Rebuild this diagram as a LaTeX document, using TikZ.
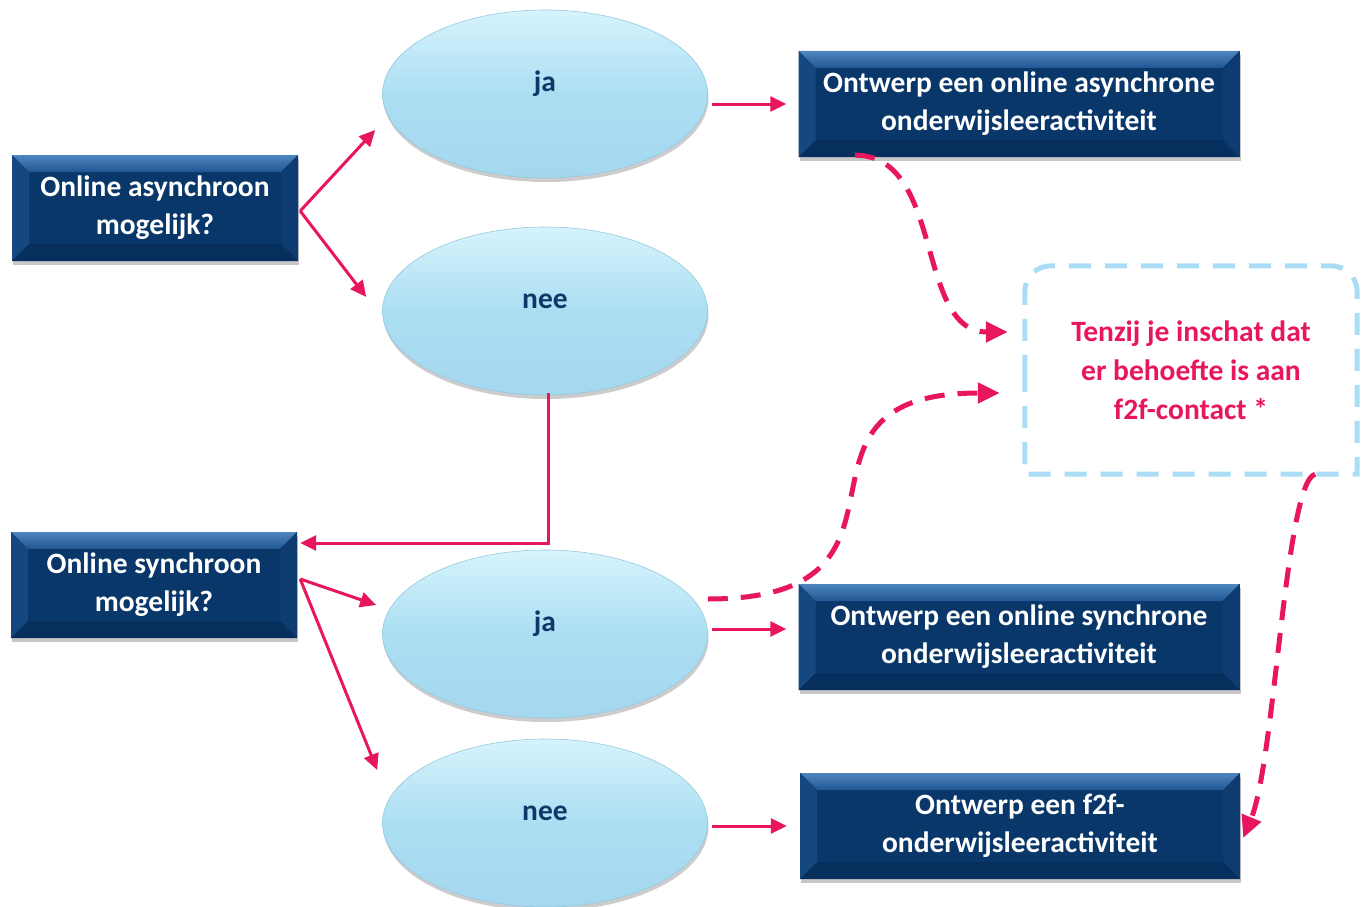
\documentclass[tikz,border=0pt]{standalone}
\usepackage{fontspec}
\setmainfont{Carlito}
\usetikzlibrary{arrows.meta,shapes.geometric,shadows}
\definecolor{navy}{RGB}{9,55,106}
\definecolor{bevtopA}{RGB}{78,134,192}
\definecolor{bevtopB}{RGB}{32,86,146}
\definecolor{bevleft}{RGB}{22,72,128}
\definecolor{bevright}{RGB}{14,60,112}
\definecolor{bevbot}{RGB}{7,47,94}
\definecolor{bubtop}{RGB}{214,244,252}
\definecolor{bubmain}{RGB}{172,222,243}
\definecolor{bubbot}{RGB}{164,216,239}
\definecolor{bubedge}{RGB}{150,200,222}
\definecolor{bubtxt}{RGB}{14,56,104}
\definecolor{pinkc}{RGB}{232,22,92}
\definecolor{frame}{RGB}{170,221,245}
\newcommand\myboxfont{\bfseries\fontsize{29.5}{38}\selectfont}
\begin{document}
\begin{tikzpicture}[x=1pt,y=-1pt,
  bevelbox/.style={rectangle, inner sep=0pt, minimum width=286pt, minimum height=106pt,
    fill=navy, text=white, font=\myboxfont, align=center,
    drop shadow={shadow xshift=1pt, shadow yshift=-4pt, fill=black, opacity=0.22},
    path picture={
      \path (path picture bounding box.north west) coordinate (bNW)
            (path picture bounding box.north east) coordinate (bNE)
            (path picture bounding box.south west) coordinate (bSW)
            (path picture bounding box.south east) coordinate (bSE);
      \shade[top color=bevtopA, bottom color=bevtopB] (bNW) -- (bNE) -- ([shift={(-17pt,-17pt)}]bNE) -- ([shift={(17pt,-17pt)}]bNW) -- cycle;
      \fill[bevleft] (bNW) -- ([shift={(17pt,-17pt)}]bNW) -- ([shift={(17pt,17pt)}]bSW) -- (bSW) -- cycle;
      \fill[bevright] (bNE) -- ([shift={(-17pt,-17pt)}]bNE) -- ([shift={(-17pt,17pt)}]bSE) -- (bSE) -- cycle;
      \fill[bevbot] (bSW) -- ([shift={(17pt,17pt)}]bSW) -- ([shift={(-17pt,17pt)}]bSE) -- (bSE) -- cycle;
    }},
  widebox/.style={bevelbox, minimum width=441pt},
  bubble/.style={ellipse, minimum width=325pt, minimum height=168pt, inner sep=0pt,
    top color=bubtop, bottom color=bubbot, middle color=bubmain,
    draw=bubedge, line width=0.6pt,
    drop shadow={shadow xshift=1pt, shadow yshift=-4pt, fill=black, opacity=0.2},
    text=bubtxt, font=\myboxfont, text height=15pt, text depth=20pt},
  arr/.style={draw=pinkc, line width=3pt, -{Triangle[length=16pt,width=15pt]}},
  darr/.style={draw=pinkc, line width=5pt, dash pattern=on 20pt off 13pt, -{Triangle[length=22pt,width=20pt]}},
  framebox/.style={draw=frame, line width=5pt, dash pattern=on 22pt off 14pt}
]
\useasboundingbox (0,0) rectangle (1365,907);

% boxes
\node[bevelbox] (q1) at (155,208) {Online asynchroon\\mogelijk?};
\node[bevelbox] (q2) at (154,585) {Online synchroon\\mogelijk?};
\node[widebox] (r1) at (1019,104) {Ontwerp een online asynchrone\\onderwijsleeractiviteit};
\node[widebox] (r2) at (1019,637) {Ontwerp een online synchrone\\onderwijsleeractiviteit};
\node[widebox, minimum width=440pt] (r3) at (1020,826) {Ontwerp een f2f-\\onderwijsleeractiviteit};

% ellipses
\node[bubble] (ja1) at (545,94) {ja};
\node[bubble] (nee1) at (545,311) {nee};
\node[bubble] (ja2) at (545,634) {ja};
\node[bubble] (nee2) at (545,823) {nee};

% note
\node[minimum width=332pt, minimum height=208pt, inner sep=0pt, align=center,
      text=pinkc, font=\bfseries\fontsize{29.5}{39}\selectfont] (note) at (1191,370)
      {Tenzij je inschat dat\\er behoefte is aan\\f2f-contact *};
\draw[framebox] (note.west) -- (note.south west) -- (note.south east) -- (note.east)
   [rounded corners=26pt] -- (note.north east) -- (note.north west) -- (note.west);

% solid arrows
\draw[arr] ([shift={(2pt,-3pt)}]q1.east) -- ([shift={(-7pt,-36pt)}]ja1.west);
\draw[arr] ([shift={(2pt,-3pt)}]q1.east) -- ([shift={(-16pt,14pt)}]nee1.west);
\draw[arr] ([shift={(4pt,-10pt)}]ja1.east) -- ([shift={(-12pt,0pt)}]r1.west);
\draw[arr] ([shift={(3pt,2pt)}]nee1.south) |- ([shift={(3pt,42pt)}]q2.east);
\draw[arr] ([shift={(3pt,6pt)}]q2.east) -- ([shift={(-6pt,29pt)}]ja2.west);
\draw[arr] ([shift={(3pt,6pt)}]q2.east) -- ([shift={(-5pt,53pt)}]nee2.west);
\draw[arr] ([shift={(4pt,5pt)}]ja2.east) -- ([shift={(-12pt,8pt)}]r2.west);
\draw[arr] ([shift={(4pt,-3pt)}]nee2.east) -- ([shift={(-13pt,0pt)}]r3.west);

% dashed arrows
\draw[darr] ([shift={(-164pt,2pt)}]r1.south) .. controls +(90pt,0pt) and +(-93pt,0pt) .. ([shift={(-17pt,38pt)}]note.west);
\draw[darr] ([shift={(0pt,35pt)}]ja2.east) .. controls +(240pt,0pt) and +(-240pt,0pt) .. ([shift={(-25pt,-23pt)}]note.west);
\draw[darr] ([shift={(-42pt,0pt)}]note.south east) .. controls +(-30pt,-7pt) and +(32pt,78pt) .. ([shift={(3pt,-12pt)}]r3.east);
\end{tikzpicture}
\end{document}
